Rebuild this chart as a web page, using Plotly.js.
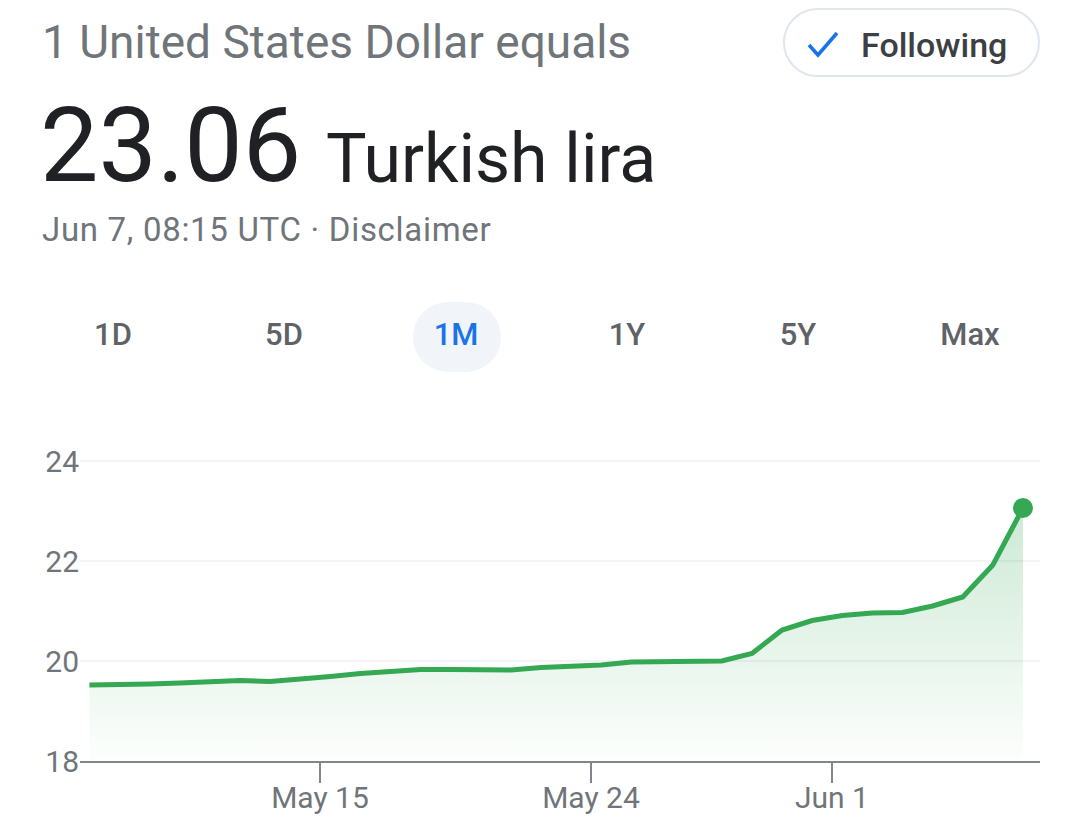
<!DOCTYPE html>
<html>
<head>
<meta charset="utf-8">
<script src="https://cdn.plot.ly/plotly-3.0.1.min.js"></script>
<style>
  body { margin:0; background:#fff; width:1080px; height:833px; overflow:hidden; position:relative; font-family:Roboto, Arial, sans-serif; }
  .abs { position:absolute; white-space:nowrap; line-height:1; }
  .tab { position:absolute; top:319px; width:120px; text-align:center; font-size:31px; font-weight:500; color:#5f6368; line-height:1; }
</style>
</head>
<body>
<div class="abs" style="left:42px; top:19px; font-size:46px; color:#70757a;">1 United States Dollar equals</div>
<div class="abs" style="left:783px; top:8px; width:253px; height:65px; border:2px solid #dfe6ee; border-radius:36px;"></div>
<svg class="abs" style="left:804px; top:28px;" width="40" height="34">
  <path d="M5 17 L14 27 L33 5" fill="none" stroke="#1a73e8" stroke-width="3.5"/>
</svg>
<div class="abs" style="left:861px; top:28px; font-size:34px; font-weight:500; color:#3c4043;">Following</div>
<div class="abs" style="left:40px; top:94px; font-size:104px; color:#202124;">23.06</div>
<div class="abs" style="left:326px; top:125px; font-size:68px; color:#202124;">Turkish lira</div>
<div class="abs" style="left:42px; top:213px; font-size:33px; letter-spacing:0.7px; color:#70757a;">Jun 7, 08:15 UTC · Disclaimer</div>

<div class="abs" style="left:413px; top:302px; width:88px; height:70px; border-radius:35px; background:#f1f4f9;"></div>
<div class="tab" style="left:53px;">1D</div>
<div class="tab" style="left:224px;">5D</div>
<div class="tab" style="left:396px; color:#1a73e8;">1M</div>
<div class="tab" style="left:567px;">1Y</div>
<div class="tab" style="left:738px;">5Y</div>
<div class="tab" style="left:910px;">Max</div>

<div id="chart" style="position:absolute; left:0; top:400px; width:1080px; height:433px;"></div>

<script>
// daily USD/TRY rates
var dates = [
  '2023-05-07 08:15','2023-05-08 08:15','2023-05-09 08:15','2023-05-10 08:15',
  '2023-05-11 08:15','2023-05-12 08:15','2023-05-13 08:15','2023-05-14 08:15',
  '2023-05-15 08:15','2023-05-16 08:15','2023-05-17 08:15','2023-05-18 08:15',
  '2023-05-19 08:15','2023-05-20 08:15','2023-05-21 08:15','2023-05-22 08:15',
  '2023-05-23 08:15','2023-05-24 08:15','2023-05-25 08:15','2023-05-26 08:15',
  '2023-05-27 08:15','2023-05-28 08:15','2023-05-29 08:15','2023-05-30 08:15',
  '2023-05-31 08:15','2023-06-01 08:15','2023-06-02 08:15','2023-06-03 08:15',
  '2023-06-04 08:15','2023-06-05 08:15','2023-06-06 08:15','2023-06-07 08:15'
];
var rates = [
  19.52, 19.52, 19.54, 19.56, 19.59, 19.61, 19.59, 19.63,
  19.69, 19.75, 19.79, 19.83, 19.83, 19.82, 19.82, 19.87,
  19.89, 19.92, 19.98, 19.99, 19.99, 20.00, 20.15, 20.62,
  20.81, 20.91, 20.96, 20.97, 21.10, 21.28, 21.92, 23.06
];
var tickDates = ['2023-05-15', '2023-05-24', '2023-06-01'];
var tickLabels = ['May 15', 'May 24', 'Jun 1'];
var yTicks = [18, 20, 22, 24];

var green = '#34a853';
var grey = '#70757a';

var lineTrace = {
  x: dates,
  y: rates,
  type: 'scatter',
  mode: 'lines',
  line: {color: green, width: 5},
  fill: 'tozeroy',
  fillgradient: {
    type: 'vertical',
    start: 18,
    stop: 23.06,
    colorscale: [[0, 'rgba(52,168,83,0.01)'], [1, 'rgba(52,168,83,0.25)']]
  },
  hoverinfo: 'skip'
};

var lastPoint = {
  x: [dates[dates.length - 1]],
  y: [rates[rates.length - 1]],
  type: 'scatter',
  mode: 'markers',
  marker: {color: green, size: 20},
  cliponaxis: false,
  hoverinfo: 'skip'
};

var layout = {
  width: 1080,
  height: 433,
  margin: {l: 80, r: 40, t: 41, b: 72},
  paper_bgcolor: '#fff',
  plot_bgcolor: 'rgba(0,0,0,0)',
  showlegend: false,
  font: {family: 'Roboto, Arial, sans-serif', color: grey},
  xaxis: {
    type: 'date',
    range: ['2023-05-07 00:45', '2023-06-07 21:50'],
    tickvals: tickDates,
    ticktext: tickLabels,
    ticks: 'outside',
    ticklen: 20,
    tickwidth: 2,
    tickcolor: '#80868b',
    ticklabelstandoff: -11,
    showline: true,
    linecolor: '#80868b',
    linewidth: 2,
    showgrid: false,
    zeroline: false,
    tickfont: {size: 30, color: grey},
    fixedrange: true
  },
  yaxis: {
    range: [18, 24.4],
    tickvals: yTicks,
    showgrid: true,
    gridcolor: '#f1f3f4',
    gridwidth: 2,
    zeroline: false,
    ticks: '',
    tickfont: {size: 30, color: grey},
    fixedrange: true
  }
};

Plotly.newPlot('chart', [lineTrace, lastPoint], layout, {displayModeBar: false, staticPlot: true});
</script>
</body>
</html>
